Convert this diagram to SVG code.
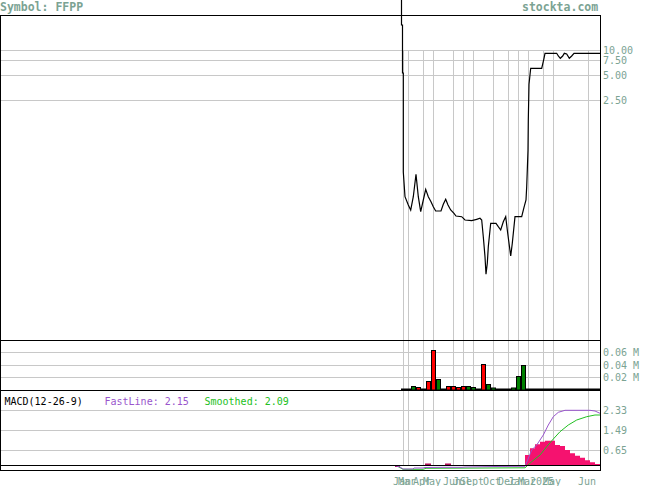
<svg xmlns="http://www.w3.org/2000/svg" width="655" height="486" viewBox="0 0 655 486">
<style>
.t{font-family:"DejaVu Sans Mono","Liberation Mono",monospace;fill:#7ba393;font-size:10px}
.h{font-family:"DejaVu Sans Mono","Liberation Mono",monospace;fill:#7ba393;font-size:11.5px;font-weight:bold}
.g{stroke:#c8c8c8;stroke-width:1;fill:none}
.k{stroke:#000;stroke-width:1;fill:none}
.r{fill:#ff0000;stroke:#000;stroke-width:1}
.v{fill:#008000;stroke:#000;stroke-width:1}
.x{font-family:"DejaVu Sans Mono","Liberation Mono",monospace;fill:#7ba393;font-size:10px;text-anchor:middle}
</style>
<rect width="655" height="486" fill="#fff"/>
<g id="header">
<text class="h" x="0" y="11">Symbol: FFPP</text>
<text class="h" x="522" y="11">stockta.com</text>
</g>
<g id="grid">
<path class="g" d="M1 50.5H600M1 60.5H600M1 75.5H600M1 100.5H600M1 352.5H600M1 365.5H600M1 377.5H600M1 410.5H600M1 430.5H600M1 450.5H600"/>
<path class="g" d="M403.5 50V465M408.5 50V465M423.5 50V465M433.5 50V465M453.5 50V465M463.5 50V465M473.5 50V465M493.5 50V465M508.5 50V465M518.5 50V465M528.5 50V465M543.5 50V465M553.5 50V465M588.5 50V465"/>
</g>
<g id="axis-labels">
<text class="t" x="603" y="54">10.00</text>
<text class="t" x="603" y="64">7.50</text>
<text class="t" x="603" y="79">5.00</text>
<text class="t" x="603" y="104">2.50</text>
<text class="t" x="603" y="356">0.06 M</text>
<text class="t" x="603" y="369">0.04 M</text>
<text class="t" x="603" y="381">0.02 M</text>
<text class="t" x="603" y="414">2.33</text>
<text class="t" x="603" y="434">1.49</text>
<text class="t" x="603" y="454">0.65</text>
</g>
<g id="volume">
<rect x="401" y="388.5" width="199" height="2" fill="#000"/>
<rect class="v" x="411.5" y="386.5" width="4" height="3.5"/>
<rect class="r" x="416.5" y="387.5" width="4" height="2.5"/>
<rect class="r" x="426.5" y="381.5" width="4" height="8.5"/>
<rect class="r" x="431.5" y="350.5" width="4" height="39.5"/>
<rect class="v" x="436.5" y="379.5" width="4" height="10.5"/>
<rect class="r" x="446.5" y="386.5" width="4" height="3.5"/>
<rect class="r" x="451.5" y="386.5" width="4" height="3.5"/>
<rect class="r" x="456.5" y="387.5" width="4" height="2.5"/>
<rect class="r" x="461.5" y="386.5" width="4" height="3.5"/>
<rect class="v" x="466.5" y="386.5" width="4" height="3.5"/>
<rect class="v" x="471.5" y="387.5" width="4" height="2.5"/>
<rect class="r" x="481.5" y="364.5" width="4" height="25.5"/>
<rect class="v" x="486.5" y="384.5" width="4" height="5.5"/>
<rect class="v" x="491.5" y="388" width="4" height="2"/>
<rect class="v" x="511.5" y="388" width="4" height="2"/>
<rect class="v" x="516.5" y="376.5" width="4" height="13.5"/>
<rect class="v" x="521.5" y="365.5" width="4" height="24.5"/>
</g>
<g id="macd">
<text x="4.5" y="405" style="font-family:'DejaVu Sans Mono','Liberation Mono',monospace;font-size:10px;fill:#000">MACD(12-26-9)</text>
<text x="104.5" y="405" style="font-family:'DejaVu Sans Mono','Liberation Mono',monospace;font-size:10px;fill:#9955cc">FastLine: 2.15</text>
<text x="204.5" y="405" style="font-family:'DejaVu Sans Mono','Liberation Mono',monospace;font-size:10px;fill:#22c022">Smoothed: 2.09</text>
<path fill="#f5126f" d="M525 465V455H530V448.3H535V444.3H540V441.7H545V440.7H555V445H560V446H565V450H570V453.3H575V455.7H580V457.7H585V460.3H590V462.3H595V464H600V465Z"/>
<rect x="425" y="463.5" width="6" height="1.5" fill="#b0105a"/>
<rect x="445" y="463.5" width="6" height="1.5" fill="#b0105a"/>
<rect x="395" y="465.5" width="5" height="1.5" fill="#b0105a"/>
<polyline fill="none" stroke="#22c022" stroke-width="1" points="398,466.5 403,469.3 423,469.3 426,468.3 525,467.8 531.7,461.7 540,455 546.7,446.7 553.3,439 560,431.7 568.3,425 576.7,420 586.7,416.7 595,415 600,415"/>
<polyline fill="none" stroke="#9955cc" stroke-width="1" points="395,465.5 400,467 403,469 413,469 414,468 423,468 425,467.5 443,467.3 462,467.3 465,467 495,466.5 525,466.3 531.7,450 536.7,445 543.3,435 548.3,425 553.3,416.7 558.3,412.3 565,410.3 590,410.3 595,411 600,413.3"/>
</g>
<g id="frame">
<rect class="k" x="0.5" y="15.5" width="600" height="455"/>
<path class="k" d="M0 340.5H600M0 390.5H600M0 465.5H600"/>
</g>
<g id="price">
<polyline fill="none" stroke="#000" stroke-width="1.2" points="401.5,0 401.5,25 402.5,25 402.5,73 403.3,73 403.3,172 405,196.7 408.3,205 410.7,210 413.3,196.7 416,174.3 418.3,196.7 420.7,211.7 423.3,200 425.7,189.3 428.3,196.7 431,201.7 433.3,206.7 435.7,211 441,211 443.3,204.3 445.7,199.3 448,205 450.7,210 454,213.3 456,216 461.7,216.7 465,220 471.7,220.7 476.7,219.3 480,218.3 481.7,220 483.3,236.7 485,256.7 486,274.3 487.3,263.3 488.3,246.7 490.7,223.3 496,223.3 498.3,226.7 500.7,230 503.3,221.7 505.7,216.7 507.7,233.3 510.7,256 512.3,243.3 515,216.7 521.7,216.7 524,207.3 526,200 526.7,186.7 527.3,170 528,150 528.3,120 529,84.3 530.7,68.3 541.7,68.3 544,58.3 545,53.3 556.7,53.3 558.3,56 560.3,58.3 562.7,56 564.3,53.3 566.7,54 569.3,58.3 571.7,56 574,53.3 600,53.3"/>
</g>
<g id="x-labels">
<text class="x" x="402" y="485">Jan</text>
<text class="x" x="407" y="485">Mar</text>
<text class="x" x="422" y="485">Apr</text>
<text class="x" x="432" y="485">May</text>
<text class="x" x="452" y="485">Jun</text>
<text class="x" x="462" y="485">Jul</text>
<text class="x" x="472" y="485">Sept</text>
<text class="x" x="492" y="485">Oct</text>
<text class="x" x="507" y="485">Dec</text>
<text class="x" x="517" y="485">Jan</text>
<text class="x" x="527" y="485">Mar</text>
<text class="x" x="542" y="485">2025</text>
<text class="x" x="552" y="485">May</text>
<text class="x" x="587" y="485">Jun</text>
</g>
</svg>
